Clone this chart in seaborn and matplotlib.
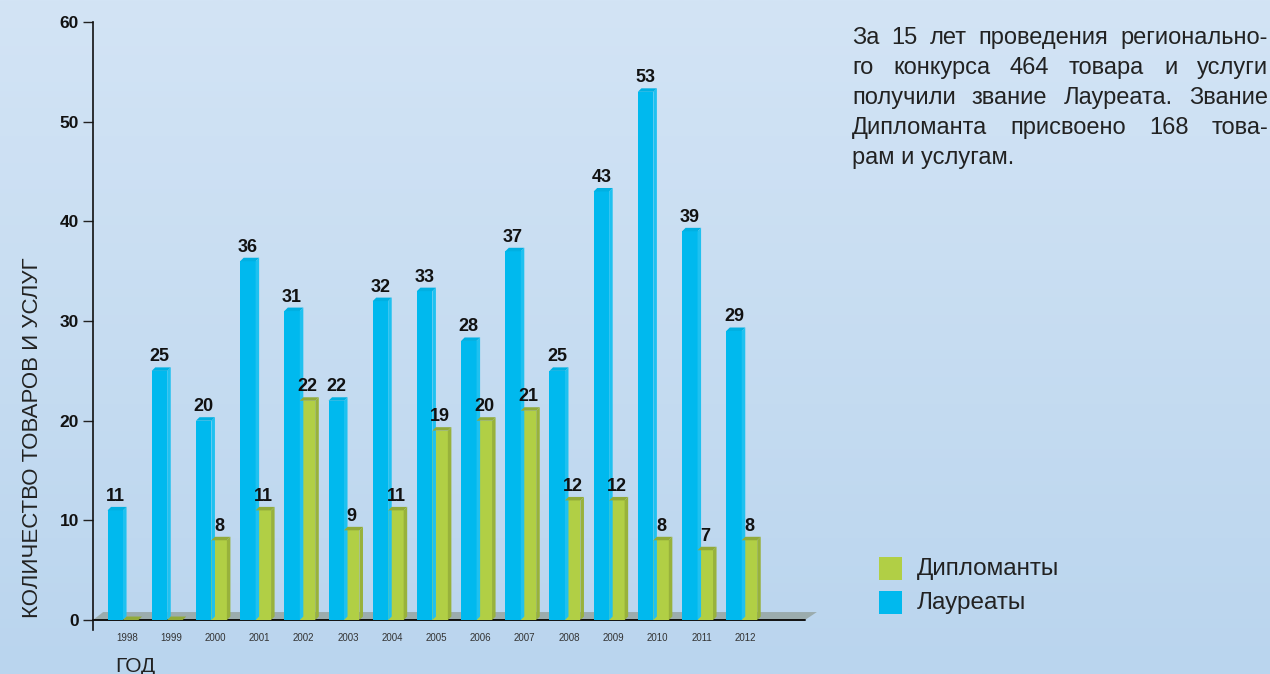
import numpy as np
import pandas as pd
import seaborn as sns
import matplotlib.pyplot as plt
from matplotlib.patches import Polygon, Rectangle
from matplotlib.colors import to_rgb

# Data
years = ['1998', '1999', '2000', '2001', '2002', '2003', '2004', '2005',
         '2006', '2007', '2008', '2009', '2010', '2011', '2012']
laureates = [11, 25, 20, 36, 31, 22, 32, 33, 28, 37, 25, 43, 53, 39, 29]
diplomants = [0, 0, 8, 11, 22, 9, 11, 19, 20, 21, 12, 12, 8, 7, 8]
series_names = ['Лауреаты', 'Дипломанты']
y_ticks = [0, 10, 20, 30, 40, 50, 60]

BLUE = '#00b9ee'
GREEN = '#b1cf45'

df = pd.DataFrame({
    'year': years * 2,
    'value': laureates + diplomants,
    'series': [series_names[0]] * len(years) + [series_names[1]] * len(years),
})

sns.set_theme(style='white')
plt.rcParams['font.family'] = ['Liberation Sans', 'DejaVu Sans']

fig = plt.figure(figsize=(12.7, 6.74), dpi=100)

# Background gradient
bg = fig.add_axes([0, 0, 1, 1], zorder=-10)
grad = np.linspace(0, 1, 256).reshape(-1, 1)
top, bot = np.array(to_rgb('#d3e4f5')), np.array(to_rgb('#bad5ee'))
img = top + (bot - top) * grad[:, :, None]
bg.imshow(img, aspect='auto', extent=[0, 1, 0, 1])
bg.set_axis_off()

ax = fig.add_axes([0.0732, 0.0653, 0.5606, 0.902])
ax.patch.set_alpha(0)

sns.barplot(data=df, x='year', y='value', hue='series', order=years,
            hue_order=series_names, palette=[BLUE, GREEN], width=0.7,
            dodge=True, saturation=1, legend=False, ax=ax, zorder=3,
            linewidth=0, edgecolor='none')

ax.set_xlim(-0.68, 15.43)
ax.set_ylim(-1, 60)

# Floor under the bars
floor = Polygon([(-0.68, 0), (-0.45, 0.8), (15.70, 0.8), (15.43, 0)],
                closed=True, facecolor='#9bacad', edgecolor='none',
                zorder=1, clip_on=False)
ax.add_patch(floor)
ax.plot([-0.68, 15.43], [0, 0], color='#111111', lw=1.4, zorder=2, clip_on=False)


def shade(c, f):
    r, g, b = to_rgb(c)
    if f > 1:
        return tuple(v + (1 - v) * (f - 1) for v in (r, g, b))
    return (r * f, g * f, b * f)


# Pseudo 3D side and top faces
dx, dy = 0.08, 0.35
bars = [p for p in ax.patches if isinstance(p, Rectangle)]
for p in bars:
    x0, w, h = p.get_x(), p.get_width(), p.get_height()
    col = p.get_facecolor()[:3]
    is_blue = col[2] > 0.8
    side_c = shade(col, 1.12) if is_blue else shade(col, 0.86)
    top_c = shade(col, 0.95) if is_blue else shade(col, 0.82)
    side = Polygon([(x0 + w, 0), (x0 + w + dx, dy), (x0 + w + dx, h + dy), (x0 + w, h)],
                   facecolor=side_c, edgecolor='none', zorder=3)
    topf = Polygon([(x0, h), (x0 + dx, h + dy), (x0 + w + dx, h + dy), (x0 + w, h)],
                   facecolor=top_c, edgecolor='none', zorder=3)
    ax.add_patch(side)
    ax.add_patch(topf)

# Value labels
for cont in ax.containers:
    labels = [f'{v:.0f}' if v > 0 else '' for v in cont.datavalues]
    ax.bar_label(cont, labels=labels, padding=4, fontsize=13,
                 fontweight='bold', color='#111111')

ax.set_yticks(y_ticks)
ax.set_yticklabels([str(t) for t in y_ticks], fontsize=12.5,
                   fontweight='bold', color='#111111')
ax.set_xticks(np.arange(len(years)) + 0.09)
ax.set_xticklabels(years, fontsize=7, color='#333333')
ax.tick_params(axis='y', left=True, length=7, width=1, color='#222222', pad=3)
ax.tick_params(axis='x', bottom=False, length=0, pad=2)

for s in ['top', 'right', 'bottom']:
    ax.spines[s].set_visible(False)
ax.spines['left'].set_color('#111111')
ax.spines['left'].set_linewidth(1.2)
ax.set_xlabel('')
ax.set_ylabel('')
ax.grid(False)

fig.text(33 / 1270, 1 - 438 / 674, 'КОЛИЧЕСТВО ТОВАРОВ И УСЛУГ', rotation=90,
         ha='center', va='center', fontsize=16, color='#222222')
fig.text(115 / 1270, 1 - 666 / 674, 'ГОД', ha='left', va='center',
         fontsize=15, color='#222222')

# Legend
for i, (name, col) in enumerate([(series_names[1], GREEN), (series_names[0], BLUE)]):
    ypx = 557 + i * 34
    fig.patches.append(Rectangle((879 / 1270, 1 - (ypx + 23) / 674), 23 / 1270, 23 / 674,
                                 transform=fig.transFigure, facecolor=col,
                                 edgecolor='none', figure=fig))
    fig.text(917 / 1270, 1 - (ypx + 11.5) / 674, name, ha='left', va='center',
             fontsize=17.5, color='#222222')

# Justified paragraph
lines = [
    'За 15 лет проведения регионально-',
    'го конкурса 464 товара и услуги',
    'получили звание Лауреата. Звание',
    'Дипломанта присвоено 168 това-',
    'рам и услугам.',
]
left_px, right_px = 852, 1268
fs = 17
fig.canvas.draw()
renderer = fig.canvas.get_renderer()
for li, line in enumerate(lines):
    ypos = 1 - (44 + li * 30) / 674
    words = line.split(' ')
    if li == len(lines) - 1:
        fig.text(left_px / 1270, ypos, line, ha='left', va='baseline',
                 fontsize=fs, color='#222222')
        continue
    objs = [fig.text(0, ypos, w, ha='left', va='baseline', fontsize=fs,
                     color='#222222') for w in words]
    widths = [o.get_window_extent(renderer).width for o in objs]
    gap = max((right_px - left_px - sum(widths)) / (len(words) - 1), 3)
    x = left_px
    for o, w in zip(objs, widths):
        o.set_x(x / 1270)
        x += w + gap

fig.savefig('out.png', dpi=100)
